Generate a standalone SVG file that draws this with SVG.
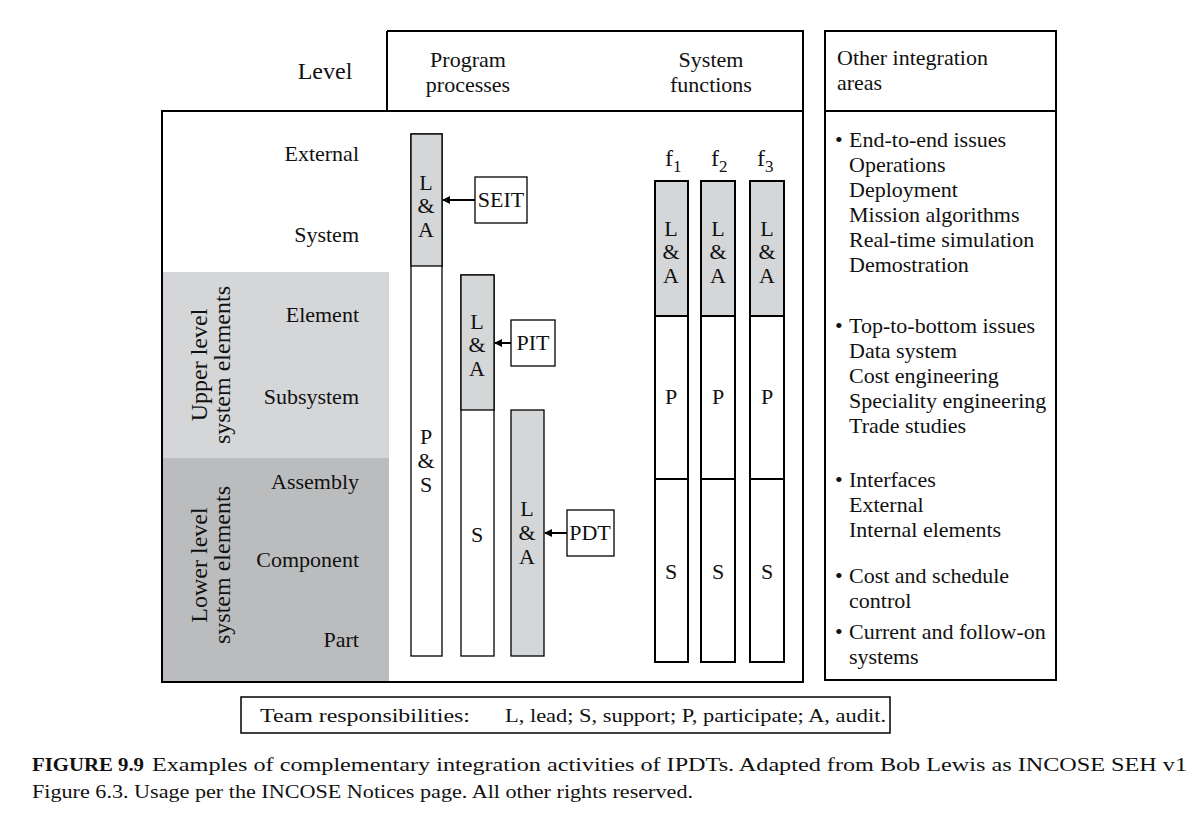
<svg xmlns="http://www.w3.org/2000/svg" width="1199" height="815" viewBox="0 0 1199 815">
<defs>
<marker id="ah" markerWidth="8" markerHeight="8" refX="7" refY="4" orient="auto" markerUnits="userSpaceOnUse">
<path d="M0,0 L8,4 L0,8 Z" fill="#000"/>
</marker>
<style>
text{font-family:"Liberation Serif","Times New Roman",serif;fill:#111;}
.t22{font-size:22px;}
.t24{font-size:24px;}
.r{text-anchor:end;}
.m{text-anchor:middle;}
.box{fill:none;stroke:#000;stroke-width:2;}
.bar{stroke:#000;stroke-width:1.3;}
.fbar{stroke:#000;stroke-width:2;}
.g{fill:#d5d6d8;}
.w{fill:#fff;}
.cap{font-size:19px;}
</style>
</defs>
<rect width="1199" height="815" fill="#fff"/>
<g id="bands">
<rect x="162" y="272" width="227" height="186" fill="#d5d6d8"/>
<rect x="162" y="458" width="227" height="224" fill="#bbbcbe"/>
</g>
<g id="frame">
<path class="box" d="M387,31 H803 V682 H162 V111 H803 M387,31 V111"/>
<rect class="box" x="825" y="31" width="231" height="649"/>
<line class="box" x1="825" y1="111" x2="1056" y2="111"/>
</g>
<g id="headers">
<text class="t24 m" x="325" y="79">Level</text>
<text class="t22 m" x="468" y="67">Program</text>
<text class="t22 m" x="468" y="92">processes</text>
<text class="t22 m" x="711" y="67">System</text>
<text class="t22 m" x="711" y="92">functions</text>
<text class="t22" x="837" y="65">Other integration</text>
<text class="t22" x="837" y="90">areas</text>
</g>
<g id="levels">
<text class="t22 r" x="359" y="161">External</text>
<text class="t22 r" x="359" y="242">System</text>
<text class="t22 r" x="359" y="322">Element</text>
<text class="t22 r" x="359" y="404">Subsystem</text>
<text class="t22 r" x="359" y="489">Assembly</text>
<text class="t22 r" x="359" y="567">Component</text>
<text class="t22 r" x="359" y="647">Part</text>
</g>
<g id="groups">
<text class="t24 m" transform="translate(207,365) rotate(-90)">Upper level</text>
<text class="t24 m" transform="translate(230,365) rotate(-90)">system elements</text>
<text class="t24 m" transform="translate(207,565) rotate(-90)">Lower level</text>
<text class="t24 m" transform="translate(230,565) rotate(-90)">system elements</text>
</g>
<g id="pp1">
<rect class="bar w" x="411" y="134" width="31" height="522"/>
<rect class="bar g" x="411" y="134" width="31" height="132"/>
<text class="t22 m" x="426" y="190">L</text>
<text class="t22 m" x="426" y="213">&amp;</text>
<text class="t22 m" x="426" y="237">A</text>
<text class="t22 m" x="426" y="444">P</text>
<text class="t22 m" x="426" y="468">&amp;</text>
<text class="t22 m" x="426" y="492">S</text>
</g>
<g id="pp2">
<rect class="bar w" x="461" y="275" width="33" height="381"/>
<rect class="bar g" x="461" y="275" width="33" height="135"/>
<text class="t22 m" x="477" y="329">L</text>
<text class="t22 m" x="477" y="352">&amp;</text>
<text class="t22 m" x="477" y="376">A</text>
<text class="t22 m" x="477" y="542">S</text>
</g>
<g id="pp3">
<rect class="bar g" x="511" y="410" width="33" height="246"/>
<text class="t22 m" x="527" y="516">L</text>
<text class="t22 m" x="527" y="540">&amp;</text>
<text class="t22 m" x="527" y="564">A</text>
</g>
<g id="seit">
<rect class="bar w" x="475" y="177" width="52" height="46"/>
<text class="t22 m" x="501" y="207">SEIT</text>
</g>
<g id="pit">
<rect class="bar w" x="511" y="320" width="44" height="46"/>
<text class="t22 m" x="533" y="350">PIT</text>
</g>
<g id="pdt">
<rect class="bar w" x="567" y="510" width="47" height="46"/>
<text class="t22 m" x="590" y="540">PDT</text>
</g>
<g id="connectors" stroke="#000" stroke-width="2" fill="none">
<line x1="475" y1="200" x2="443" y2="200" marker-end="url(#ah)"/>
<line x1="511" y1="343" x2="495" y2="343" marker-end="url(#ah)"/>
<line x1="567" y1="533" x2="545" y2="533" marker-end="url(#ah)"/>
</g>
<g id="f1">
<text class="t24" x="665" y="166">f<tspan font-size="17" dy="6">1</tspan></text>
<rect class="fbar w" x="655" y="181" width="33" height="481"/>
<rect class="fbar g" x="655" y="181" width="33" height="135"/>
<line class="fbar" x1="655" y1="479" x2="688" y2="479" stroke-width="1.3"/>
<text class="t22 m" x="671" y="236">L</text>
<text class="t22 m" x="671" y="259">&amp;</text>
<text class="t22 m" x="671" y="283">A</text>
<text class="t22 m" x="671" y="404">P</text>
<text class="t22 m" x="671" y="579">S</text>
</g>
<g id="f2">
<text class="t24" x="711" y="166">f<tspan font-size="17" dy="6">2</tspan></text>
<rect class="fbar w" x="701" y="181" width="34" height="481"/>
<rect class="fbar g" x="701" y="181" width="34" height="135"/>
<line class="fbar" x1="701" y1="479" x2="735" y2="479" stroke-width="1.3"/>
<text class="t22 m" x="718" y="236">L</text>
<text class="t22 m" x="718" y="259">&amp;</text>
<text class="t22 m" x="718" y="283">A</text>
<text class="t22 m" x="718" y="404">P</text>
<text class="t22 m" x="718" y="579">S</text>
</g>
<g id="f3">
<text class="t24" x="757" y="166">f<tspan font-size="17" dy="6">3</tspan></text>
<rect class="fbar w" x="750" y="181" width="34" height="481"/>
<rect class="fbar g" x="750" y="181" width="34" height="135"/>
<line class="fbar" x1="750" y1="479" x2="784" y2="479" stroke-width="1.3"/>
<text class="t22 m" x="767" y="236">L</text>
<text class="t22 m" x="767" y="259">&amp;</text>
<text class="t22 m" x="767" y="283">A</text>
<text class="t22 m" x="767" y="404">P</text>
<text class="t22 m" x="767" y="579">S</text>
</g>
<g id="areas">
<text class="t22" x="835" y="147">•</text>
<text class="t22" x="849" y="147">End-to-end issues</text>
<text class="t22" x="849" y="172">Operations</text>
<text class="t22" x="849" y="197">Deployment</text>
<text class="t22" x="849" y="222">Mission algorithms</text>
<text class="t22" x="849" y="247">Real-time simulation</text>
<text class="t22" x="849" y="272">Demostration</text>
<text class="t22" x="835" y="333">•</text>
<text class="t22" x="849" y="333">Top-to-bottom issues</text>
<text class="t22" x="849" y="358">Data system</text>
<text class="t22" x="849" y="383">Cost engineering</text>
<text class="t22" x="849" y="408">Speciality engineering</text>
<text class="t22" x="849" y="433">Trade studies</text>
<text class="t22" x="835" y="487">•</text>
<text class="t22" x="849" y="487">Interfaces</text>
<text class="t22" x="849" y="512">External</text>
<text class="t22" x="849" y="537">Internal elements</text>
<text class="t22" x="835" y="583">•</text>
<text class="t22" x="849" y="583">Cost and schedule</text>
<text class="t22" x="849" y="608">control</text>
<text class="t22" x="835" y="639">•</text>
<text class="t22" x="849" y="639">Current and follow-on</text>
<text class="t22" x="849" y="664">systems</text>
</g>
<g id="legend">
<rect x="241" y="697" width="649" height="36" fill="none" stroke="#000" stroke-width="1.5"/>
<text class="cap" x="260" y="722" textLength="210" lengthAdjust="spacingAndGlyphs">Team responsibilities:</text>
<text class="cap" x="505" y="722" textLength="381" lengthAdjust="spacingAndGlyphs">L, lead; S, support; P, participate; A, audit.</text>
</g>
<g id="caption">
<text class="cap" x="32" y="771" font-weight="bold" textLength="112" lengthAdjust="spacingAndGlyphs">FIGURE 9.9</text>
<text class="cap" x="152" y="771" textLength="1035" lengthAdjust="spacingAndGlyphs">Examples of complementary integration activities of IPDTs. Adapted from Bob Lewis as INCOSE SEH v1</text>
<text class="cap" x="32" y="798" textLength="661" lengthAdjust="spacingAndGlyphs">Figure 6.3. Usage per the INCOSE Notices page. All other rights reserved.</text>
</g>
</svg>
